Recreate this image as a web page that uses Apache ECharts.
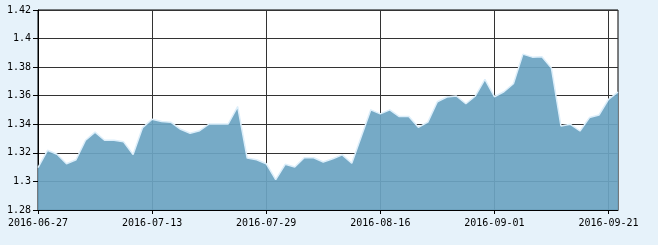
<!DOCTYPE html>
<html>
<head>
<meta charset="utf-8">
<script src="https://cdn.jsdelivr.net/npm/echarts@6/dist/echarts.min.js"></script>
<style>
html,body{margin:0;padding:0;background:#E6F2FA;}
#chart{width:658px;height:245px;}
</style>
</head>
<body>
<div id="chart"></div>
<script>
var dates = [
  '2016-06-27','2016-06-28','2016-06-29','2016-06-30','2016-07-01',
  '2016-07-04','2016-07-05','2016-07-06','2016-07-07','2016-07-08',
  '2016-07-11','2016-07-12','2016-07-13','2016-07-14','2016-07-15',
  '2016-07-18','2016-07-19','2016-07-20','2016-07-21','2016-07-22',
  '2016-07-25','2016-07-26','2016-07-27','2016-07-28','2016-07-29',
  '2016-08-01','2016-08-02','2016-08-03','2016-08-04','2016-08-05',
  '2016-08-08','2016-08-09','2016-08-10','2016-08-11','2016-08-12',
  '2016-08-15','2016-08-16','2016-08-17','2016-08-18','2016-08-19',
  '2016-08-22','2016-08-23','2016-08-24','2016-08-25','2016-08-26',
  '2016-08-29','2016-08-30','2016-08-31','2016-09-01','2016-09-02',
  '2016-09-05','2016-09-06','2016-09-07','2016-09-08','2016-09-09',
  '2016-09-12','2016-09-13','2016-09-14','2016-09-19','2016-09-20',
  '2016-09-21','2016-09-22'
];
var values = [
  1.3096, 1.3218, 1.3190, 1.3124, 1.3152,
  1.3288, 1.3345, 1.3288, 1.3288, 1.3277,
  1.3188, 1.3377, 1.3435, 1.3419, 1.3414,
  1.3365, 1.3337, 1.3355, 1.3402, 1.3402,
  1.3402, 1.3524, 1.3164, 1.3152, 1.3124,
  1.3012, 1.3120, 1.3101, 1.3166, 1.3166,
  1.3136, 1.3159, 1.3186, 1.3127, 1.3315,
  1.3501, 1.3473, 1.3501, 1.3454, 1.3454,
  1.3379, 1.3415, 1.3558, 1.3591, 1.3598,
  1.3544, 1.3598, 1.3715, 1.3593, 1.3628,
  1.3684, 1.3891, 1.3870, 1.3873, 1.3793,
  1.3388, 1.3400, 1.3353, 1.3447, 1.3465,
  1.3574, 1.3626
];
var yMin = 1.28, yMax = 1.42, yStep = 0.02;
var labelEvery = 11;

var chart = echarts.init(document.getElementById('chart'), null, {renderer: 'canvas'});
var font = 'DejaVu Sans Mono';
chart.setOption({
  backgroundColor: '#E6F2FA',
  animation: false,
  grid: {
    left: 38, right: 40, top: 10, bottom: 35,
    show: true, backgroundColor: '#ffffff', borderColor: '#000', borderWidth: 1
  },
  xAxis: {
    type: 'category',
    data: dates,
    boundaryGap: false,
    axisLine: {lineStyle: {color: '#000', width: 1}},
    axisTick: {show: true, interval: labelEvery, length: 4, lineStyle: {color: '#000'}},
    axisLabel: {interval: labelEvery, margin: 8, color: '#000', fontFamily: font, fontSize: 10},
    splitLine: {show: true, interval: labelEvery, lineStyle: {color: '#333', width: 1}}
  },
  yAxis: {
    type: 'value',
    min: yMin, max: yMax, interval: yStep,
    axisLine: {show: true, lineStyle: {color: '#000', width: 1}},
    axisTick: {show: true, length: 5, lineStyle: {color: '#000'}},
    axisLabel: {margin: 7, color: '#000', fontFamily: font, fontSize: 10},
    splitLine: {show: true, lineStyle: {color: '#333', width: 1}}
  },
  series: [{
    type: 'line',
    data: values,
    symbol: 'none',
    smooth: false,
    lineStyle: {color: '#dceefa', width: 1.5},
    areaStyle: {color: '#6ca4c2', opacity: 0.93},
    z: 3
  }]
});
</script>
</body>
</html>
